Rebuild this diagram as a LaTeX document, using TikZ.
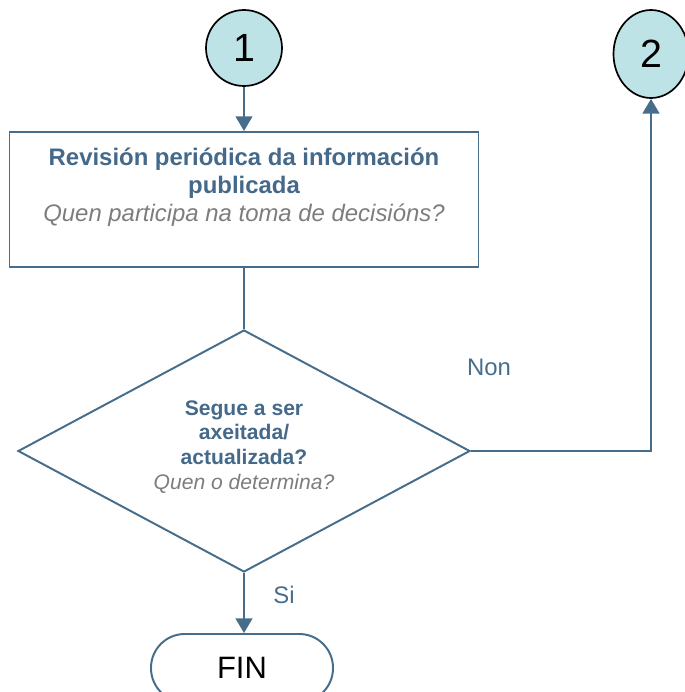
\documentclass[tikz,border=0pt]{standalone}
\usepackage{fontspec}
\setmainfont{Liberation Sans}
\usetikzlibrary{shapes.geometric,arrows.meta}
\definecolor{azul}{RGB}{70,110,140}
\definecolor{azultx}{RGB}{68,105,138}
\definecolor{ceo}{RGB}{190,227,230}
\definecolor{gris}{RGB}{125,125,125}
\begin{document}
\begin{tikzpicture}[x=0.025cm,y=-0.025cm,line join=miter,
	fluxo/.style={draw=azul,line width=1.4pt},
	frecha/.style={fluxo,-{Triangle[width=12pt,length=10.5pt]}},
	conector/.style={draw=black,line width=1.2pt,fill=ceo,inner sep=0pt,font=\fontsize{28}{30}\selectfont},
	etiqueta/.style={text=azul,font=\fontsize{17}{20}\selectfont}]
		\def\pxu{0.025cm}% un pixel
		\useasboundingbox (0,0) rectangle (685,692);
		\clip (0,0) rectangle (685,692);
		% conectores
		\node[conector,circle,minimum size=76*\pxu] (c1) at (244,48) {1};
		\node[conector,ellipse,minimum width=75*\pxu,minimum height=88*\pxu] (c2) at (651,54) {2};
		% caixa
		\node[fluxo,rectangle,minimum width=469*\pxu,minimum height=135*\pxu,inner sep=0pt] (rev) at (244,199.5)
		{\parbox[c][2.6cm][t]{11.5cm}{\centering\fontsize{17}{20.2}\selectfont
				\textcolor{azultx}{\bfseries Revisión periódica da información\\ publicada}\\
				\textcolor{gris}{\itshape Quen participa na toma de decisións?}}};
		% decision
		\node[fluxo,diamond,aspect=1.87,minimum width=452*\pxu,minimum height=242*\pxu,inner sep=0pt] (dec) at (244,451)
		{\parbox[c][2.525cm][t]{5cm}{\centering\fontsize{15}{17.5}\selectfont
				\textcolor{azultx}{\bfseries Segue a ser\\ axeitada/\\ actualizada?}\\
				\textcolor{gris}{\itshape Quen o determina?}}};
		% fin
		\node[fluxo,rectangle,rounded corners=24pt,minimum width=182*\pxu,minimum height=68*\pxu,
			font=\fontsize{22}{24}\selectfont] (fin) at (242,668) {FIN};
		\node[etiqueta] (non) at (489,367) {Non};
		\node[etiqueta] (si) at (284,595) {Si};
		\draw[frecha] (c1.south) -- (rev.north);
		\draw[fluxo] (rev.south) -- (dec.north);
		\draw[frecha] (dec.east) -- (c2.south |- dec.east) -- (c2.south);
		\draw[frecha] (dec.south) -- (dec.south |- fin.north);
\end{tikzpicture}
\end{document}
